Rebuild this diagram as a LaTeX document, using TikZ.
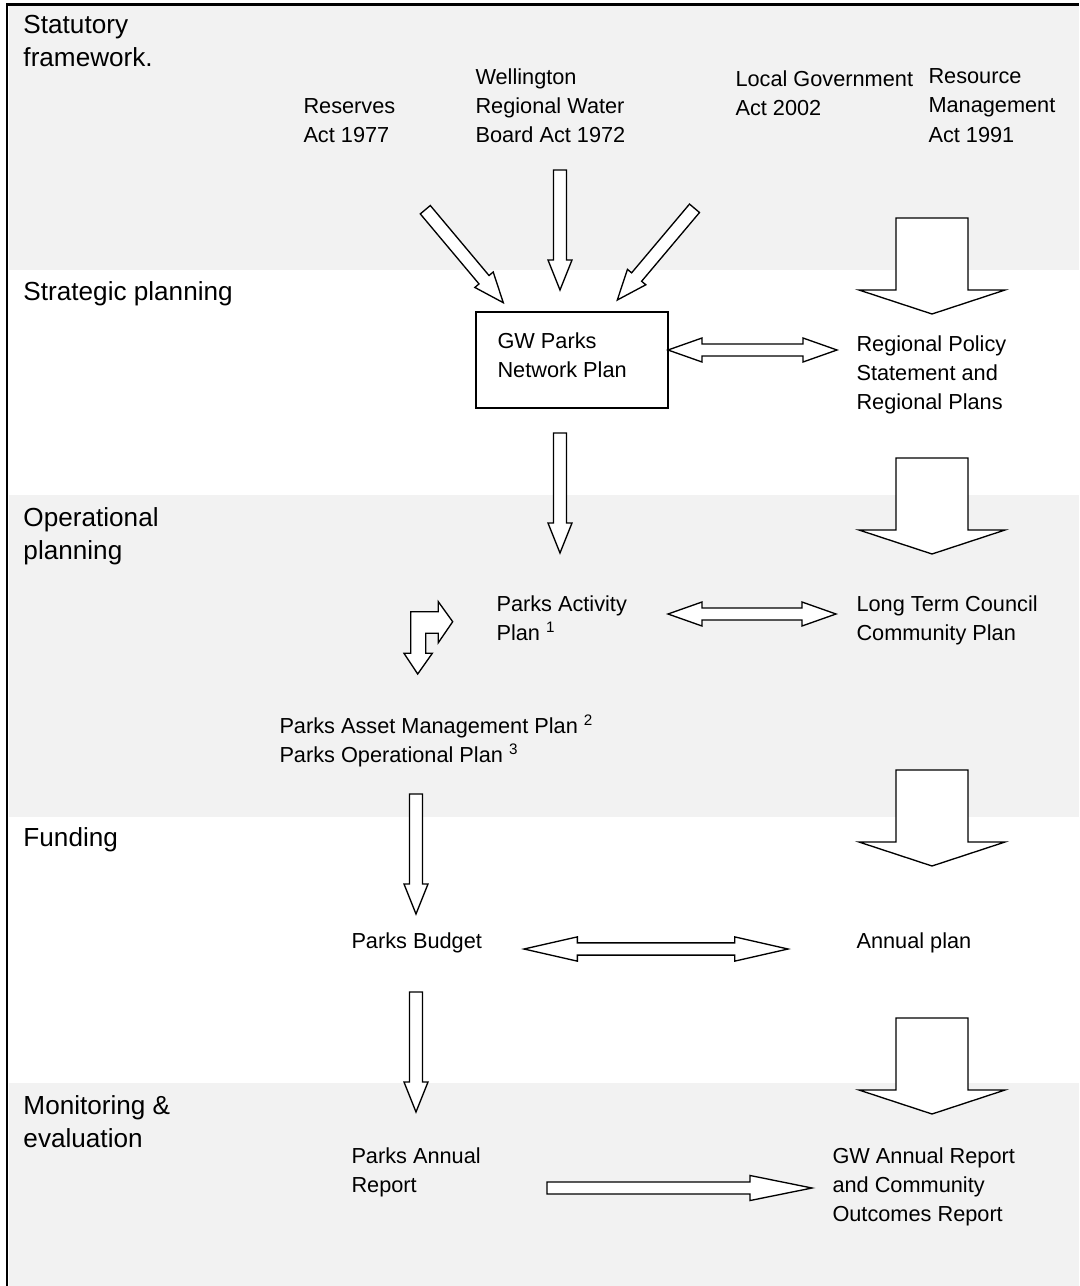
\documentclass[tikz,border=0pt]{standalone}
\usepackage{fontspec}
\setmainfont{Liberation Sans}
\usetikzlibrary{calc}
\definecolor{bandgrey}{RGB}{242,242,242}

\tikzset{every picture/.style={line width=0.75pt}}
\tikzset{
  lbltext/.style={anchor=north west, inner sep=0pt, align=left, font=\fontsize{19.6}{24.75}\selectfont},
  bodytext/.style={anchor=north west, inner sep=0pt, align=left, font=\fontsize{16.3}{22}\selectfont},
  arrowline/.style={draw=black, fill=white, line width=1pt, line join=miter},
  % block arrow: shaft half width, head half width, head length
  blockarrow/.style n args={3}{arrowline, to path={
      ($(\tikztostart)!#1!90:(\tikztotarget)$)
      -- ($(\tikztotarget)!#3!(\tikztostart)!#1!90:(\tikztotarget)$)
      -- ($(\tikztotarget)!#3!(\tikztostart)!#2!90:(\tikztotarget)$)
      -- (\tikztotarget)
      -- ($(\tikztotarget)!#3!(\tikztostart)!#2!-90:(\tikztotarget)$)
      -- ($(\tikztotarget)!#3!(\tikztostart)!#1!-90:(\tikztotarget)$)
      -- ($(\tikztostart)!#1!-90:(\tikztotarget)$) -- cycle}},
  % two headed block arrow
  twowayarrow/.style n args={3}{arrowline, to path={
      (\tikztostart)
      -- ($(\tikztostart)!#3!(\tikztotarget)!#2!90:(\tikztotarget)$)
      -- ($(\tikztostart)!#3!(\tikztotarget)!#1!90:(\tikztotarget)$)
      -- ($(\tikztotarget)!#3!(\tikztostart)!#1!90:(\tikztotarget)$)
      -- ($(\tikztotarget)!#3!(\tikztostart)!#2!90:(\tikztotarget)$)
      -- (\tikztotarget)
      -- ($(\tikztotarget)!#3!(\tikztostart)!#2!-90:(\tikztotarget)$)
      -- ($(\tikztotarget)!#3!(\tikztostart)!#1!-90:(\tikztotarget)$)
      -- ($(\tikztostart)!#3!(\tikztotarget)!#1!-90:(\tikztotarget)$)
      -- ($(\tikztostart)!#3!(\tikztotarget)!#2!-90:(\tikztotarget)$)
      -- cycle}},
  thinarr/.style={blockarrow={4.9pt}{9pt}{22.5pt}},
  bigarr/.style={blockarrow={27pt}{54.75pt}{18pt}},
  longarr/.style={blockarrow={4.5pt}{9.4pt}{46.5pt}},
  linkarr/.style={twowayarrow={4.5pt}{9pt}{25.5pt}},
  longlinkarr/.style={twowayarrow={4.6pt}{9.1pt}{40pt}},
}

\begin{document}
\begin{tikzpicture}[x=0.75pt,y=0.75pt,yscale=-1,xscale=1]
\useasboundingbox (0,0) rectangle (1079,1286);

%Shape: grey bands
\fill[bandgrey] (9,5) rectangle (1079,270);
\fill[bandgrey] (9,495) rectangle (1079,817);
\fill[bandgrey] (9,1083) rectangle (1079,1286);
%Straight Lines: frame top and left
\draw[line width=1.7pt] (6,4.5) -- (1079,4.5);
\draw[line width=1.7pt] (7.2,3.6) -- (7.2,1286);

% Text Node
\draw (23,15) node [lbltext] (statlbl) {Statutory\\framework.};
% Text Node
\draw (23,281) node [lbltext] (stratlbl) {Strategic planning};
% Text Node
\draw (23,507) node [lbltext] (oplbl) {Operational\\planning};
% Text Node
\draw (23,827) node [lbltext] (fundlbl) {Funding};
% Text Node
\draw (23,1095) node [lbltext] (monlbl) {Monitoring \&\\evaluation};

% Text Node
\draw (303,98) node [bodytext] (reserves) {Reserves\\Act 1977};
% Text Node
\draw (475,68) node [bodytext] (wellington) {Wellington\\Regional Water\\Board Act 1972};
% Text Node
\draw (735,70) node [bodytext] (localgov) {Local Government\\Act 2002};
% Text Node
\draw (928,68) node [bodytext] (rma) {Resource\\Management\\Act 1991};

%Shape: Rectangle
\draw[line width=1pt] (476,312) rectangle (668,408);
% Text Node
\draw (497,332) node [bodytext] (gwplan) {GW Parks\\Network Plan};
% Text Node
\draw (856,335) node [bodytext] (rps) {Regional Policy\\Statement and\\Regional Plans};

% Text Node
\draw (496,595) node [bodytext] (activity) {Parks Activity\\Plan \textsuperscript{1}};
% Text Node
\draw (856,595) node [bodytext] (ltccp) {Long Term Council\\Community Plan};
% Text Node
\draw (279,714) node [bodytext] (assetplan) {Parks Asset Management Plan \textsuperscript{2}\\Parks Operational Plan \textsuperscript{3}};

% Text Node
\draw (351,932) node [bodytext] (budget) {Parks Budget};
% Text Node
\draw (856,932) node [bodytext] (annualplan) {Annual plan};

% Text Node
\draw (351,1147) node [bodytext] (parksreport) {Parks Annual\\Report};
% Text Node
\draw (832,1147) node [bodytext] (gwreport) {GW Annual Report\\and Community\\Outcomes Report};

% arrow ends
\coordinate (resvtail) at (425.3,209.7);
\coordinate (resvtip) at (503.3,302.7);
\coordinate (welltail) at (560,170);
\coordinate (welltip) at (560,290);
\coordinate (lgatail) at (694.5,208.3);
\coordinate (lgatip) at (617.3,300);
\coordinate (plantail) at (560,433);
\coordinate (plantip) at (560,553);
\coordinate (opstail) at (416,794);
\coordinate (opstip) at (416,914);
\coordinate (budgtail) at (416,992);
\coordinate (budgtip) at (416,1112);
\coordinate (big1tail) at (932,218);
\coordinate (big1tip) at (932,314);
\coordinate (big2tail) at (932,458);
\coordinate (big2tip) at (932,554);
\coordinate (big3tail) at (932,770);
\coordinate (big3tip) at (932,866);
\coordinate (big4tail) at (932,1018);
\coordinate (big4tip) at (932,1114);
\coordinate (link1l) at (668,350);
\coordinate (link1r) at (837,350);
\coordinate (link2l) at (668,614);
\coordinate (link2r) at (836,614);
\coordinate (link3l) at (524,949);
\coordinate (link3r) at (788,949);
\coordinate (reptail) at (547,1188);
\coordinate (reptip) at (812,1188);

%Block Arrows
\draw[thinarr] (resvtail) to (resvtip);
\draw[thinarr] (welltail) to (welltip);
\draw[thinarr] (lgatail) to (lgatip);
\draw[thinarr] (plantail) to (plantip);
\draw[thinarr] (opstail) to (opstip);
\draw[thinarr] (budgtail) to (budgtip);
\draw[bigarr] (big1tail) to (big1tip);
\draw[bigarr] (big2tail) to (big2tip);
\draw[bigarr] (big3tail) to (big3tip);
\draw[bigarr] (big4tail) to (big4tip);
\draw[linkarr] (link1l) to (link1r);
\draw[linkarr] (link2l) to (link2r);
\draw[longlinkarr] (link3l) to (link3r);
\draw[longarr] (reptail) to (reptip);

%Bent Arrow
\draw[arrowline] (410.7,611.7) -- (438.3,611.7) -- (438.3,601.7) -- (452.7,621.7) -- (438.3,642.7) -- (438.3,633.3) -- (425.7,633.3) -- (425.7,653.3) -- (432.3,653.3) -- (417.7,674) -- (404,653.3) -- (410.7,653.3) -- cycle;

\end{tikzpicture}
\end{document}
